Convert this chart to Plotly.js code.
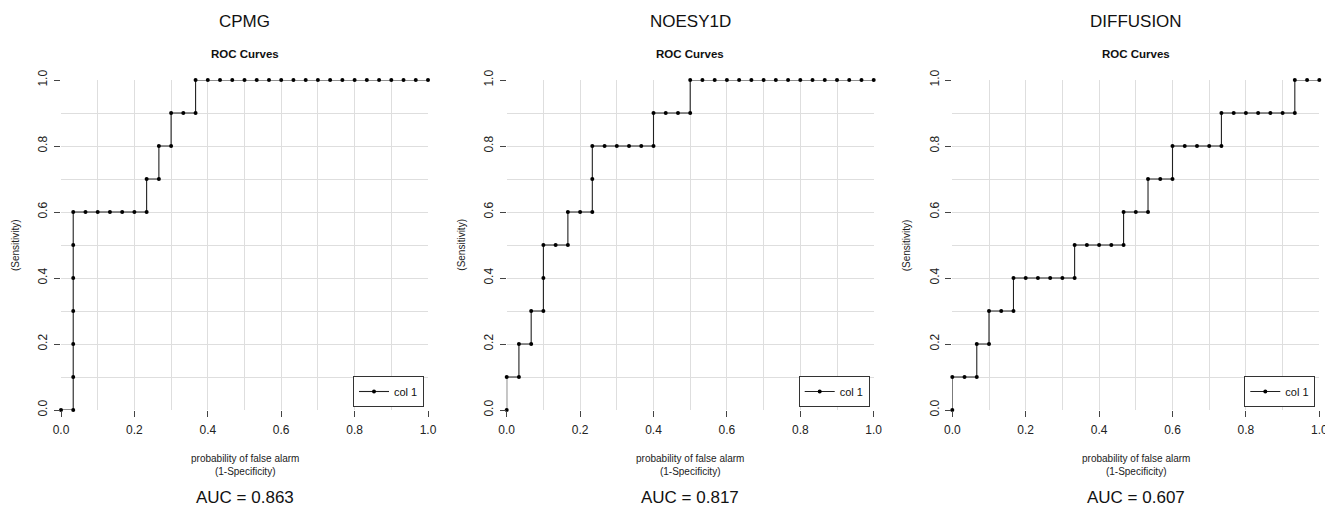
<!DOCTYPE html>
<html>
<head>
<meta charset="utf-8">
<script src="https://cdn.plot.ly/plotly-3.0.1.min.js"></script>
<style>html,body{margin:0;padding:0;background:#fff;}#chart{width:1325px;height:508px;}</style>
</head>
<body>
<div id="chart"></div>
<script>
// ---- data ----
const panelNames = ["CPMG", "NOESY1D", "DIFFUSION"];
const aucLabels = ["AUC = 0.863", "AUC = 0.817", "AUC = 0.607"];
const seriesName = "col 1";
const tickVals = [0, 0.2, 0.4, 0.6, 0.8, 1.0];
const tickText = ["0.0", "0.2", "0.4", "0.6", "0.8", "1.0"];

const cpmgFpr = [0, 0.0333, 0.0333, 0.0333, 0.0333, 0.0333, 0.0333, 0.0333,
  0.0667, 0.1, 0.1333, 0.1667, 0.2, 0.2333, 0.2333, 0.2667, 0.2667, 0.3, 0.3,
  0.3333, 0.3667, 0.3667, 0.4, 0.4333, 0.4667, 0.5, 0.5333, 0.5667, 0.6, 0.6333,
  0.6667, 0.7, 0.7333, 0.7667, 0.8, 0.8333, 0.8667, 0.9, 0.9333, 0.9667, 1.0];
const cpmgTpr = [0, 0, 0.1, 0.2, 0.3, 0.4, 0.5, 0.6,
  0.6, 0.6, 0.6, 0.6, 0.6, 0.6, 0.7, 0.7, 0.8, 0.8, 0.9,
  0.9, 0.9, 1.0, 1.0, 1.0, 1.0, 1.0, 1.0, 1.0, 1.0, 1.0,
  1.0, 1.0, 1.0, 1.0, 1.0, 1.0, 1.0, 1.0, 1.0, 1.0, 1.0];

const noesyFpr = [0, 0, 0.0333, 0.0333, 0.0667, 0.0667, 0.1, 0.1, 0.1,
  0.1333, 0.1667, 0.1667, 0.2, 0.2333, 0.2333, 0.2333,
  0.2667, 0.3, 0.3333, 0.3667, 0.4, 0.4, 0.4333, 0.4667, 0.5, 0.5,
  0.5333, 0.5667, 0.6, 0.6333, 0.6667, 0.7, 0.7333, 0.7667, 0.8, 0.8333,
  0.8667, 0.9, 0.9333, 0.9667, 1.0];
const noesyTpr = [0, 0.1, 0.1, 0.2, 0.2, 0.3, 0.3, 0.4, 0.5,
  0.5, 0.5, 0.6, 0.6, 0.6, 0.7, 0.8,
  0.8, 0.8, 0.8, 0.8, 0.8, 0.9, 0.9, 0.9, 0.9, 1.0,
  1.0, 1.0, 1.0, 1.0, 1.0, 1.0, 1.0, 1.0, 1.0, 1.0,
  1.0, 1.0, 1.0, 1.0, 1.0];

const diffFpr = [0, 0, 0.0333, 0.0667, 0.0667, 0.1, 0.1, 0.1333, 0.1667, 0.1667,
  0.2, 0.2333, 0.2667, 0.3, 0.3333, 0.3333, 0.3667, 0.4, 0.4333, 0.4667, 0.4667,
  0.5, 0.5333, 0.5333, 0.5667, 0.6, 0.6, 0.6333, 0.6667, 0.7, 0.7333, 0.7333,
  0.7667, 0.8, 0.8333, 0.8667, 0.9, 0.9333, 0.9333, 0.9667, 1.0];
const diffTpr = [0, 0.1, 0.1, 0.1, 0.2, 0.2, 0.3, 0.3, 0.3, 0.4,
  0.4, 0.4, 0.4, 0.4, 0.4, 0.5, 0.5, 0.5, 0.5, 0.5, 0.6,
  0.6, 0.6, 0.7, 0.7, 0.7, 0.8, 0.8, 0.8, 0.8, 0.8, 0.9,
  0.9, 0.9, 0.9, 0.9, 0.9, 0.9, 1.0, 1.0, 1.0];

const fprs = [cpmgFpr, noesyFpr, diffFpr];
const tprs = [cpmgTpr, noesyTpr, diffTpr];

// ---- layout geometry (pixels) ----
const W = 1325, H = 508;
const plotLeft = [61, 506.7, 952.3];
const plotW = 367;
const plotTop = 80, plotBottom = 410;
const FONT = "Liberation Sans, Arial, sans-serif";

const traces = [];
const layout = {
  width: W, height: H,
  margin: {l: 0, r: 0, t: 0, b: 0, pad: 0},
  paper_bgcolor: "#ffffff", plot_bgcolor: "#ffffff",
  font: {family: FONT, color: "#222", size: 11},
  showlegend: true,
  annotations: []
};

const yDom = [1 - plotBottom / H, 1 - plotTop / H];

for (let i = 0; i < 3; i++) {
  const sfx = i === 0 ? "" : String(i + 1);
  const legKey = "legend" + sfx;
  traces.push({
    type: "scatter", mode: "lines+markers",
    x: fprs[i], y: tprs[i],
    xaxis: "x" + sfx, yaxis: "y" + sfx,
    name: seriesName, legend: legKey,
    line: {color: "#222", width: 1.1},
    marker: {color: "#000", size: 4},
    cliponaxis: false, hoverinfo: "x+y"
  });
  const x0 = plotLeft[i] / W, x1 = (plotLeft[i] + plotW) / W;
  const axCommon = {
    range: [0, 1], showline: false, zeroline: false,
    showgrid: true, gridcolor: "#dedede", gridwidth: 1,
    ticks: "outside", ticklen: 6, tickwidth: 1, tickcolor: "#444",
    tickvals: tickVals, ticktext: tickText,
    tickfont: {family: FONT, size: 12, color: "#222"},
    ticklabeloverflow: "allow",
    minor: {dtick: 0.1, tick0: 0, showgrid: true, gridcolor: "#dedede", gridwidth: 1, ticks: ""},
    fixedrange: true
  };
  layout["xaxis" + sfx] = Object.assign({}, axCommon, {
    domain: [x0, x1], anchor: "y" + sfx, ticklabelstandoff: 3
  });
  layout["yaxis" + sfx] = Object.assign({}, axCommon, {
    domain: yDom, anchor: "x" + sfx, tickangle: -90, ticklabelstandoff: 2
  });
  layout[legKey] = {
    x: (plotLeft[i] + plotW - 4) / W, xanchor: "right",
    y: 1 - 407 / H, yanchor: "bottom",
    xref: "paper", yref: "paper",
    bgcolor: "#fff", bordercolor: "#333", borderwidth: 1,
    font: {family: FONT, size: 11, color: "#111"},
    itemwidth: 30, tracegroupgap: 0
  };
  const cx = (plotLeft[i] + plotW / 2) / W;
  layout.annotations.push(
    {text: panelNames[i], x: cx, y: 1 - 21 / H, xref: "paper", yref: "paper",
     showarrow: false, xanchor: "center", yanchor: "middle",
     font: {family: FONT, size: 17, color: "#111"}},
    {text: "<b>ROC Curves</b>", x: cx, y: 1 - 54 / H, xref: "paper", yref: "paper",
     showarrow: false, xanchor: "center", yanchor: "middle",
     font: {family: FONT, size: 11.5, color: "#111"}},
    {text: "probability of false alarm<br>(1-Specificity)", x: cx, y: 1 - 465 / H,
     xref: "paper", yref: "paper", showarrow: false, xanchor: "center", yanchor: "middle",
     font: {family: FONT, size: 10, color: "#222"}},
    {text: aucLabels[i], x: cx, y: 1 - 497 / H, xref: "paper", yref: "paper",
     showarrow: false, xanchor: "center", yanchor: "middle",
     font: {family: FONT, size: 17, color: "#111"}},
    {text: "(Sensitivity)", x: (plotLeft[i] - 46) / W, y: 1 - ((plotTop + plotBottom) / 2) / H,
     xref: "paper", yref: "paper", showarrow: false, xanchor: "center", yanchor: "middle",
     textangle: -90, font: {family: FONT, size: 10, color: "#222"}}
  );
}

Plotly.newPlot("chart", traces, layout, {displayModeBar: false, staticPlot: true});
</script>
</body>
</html>
